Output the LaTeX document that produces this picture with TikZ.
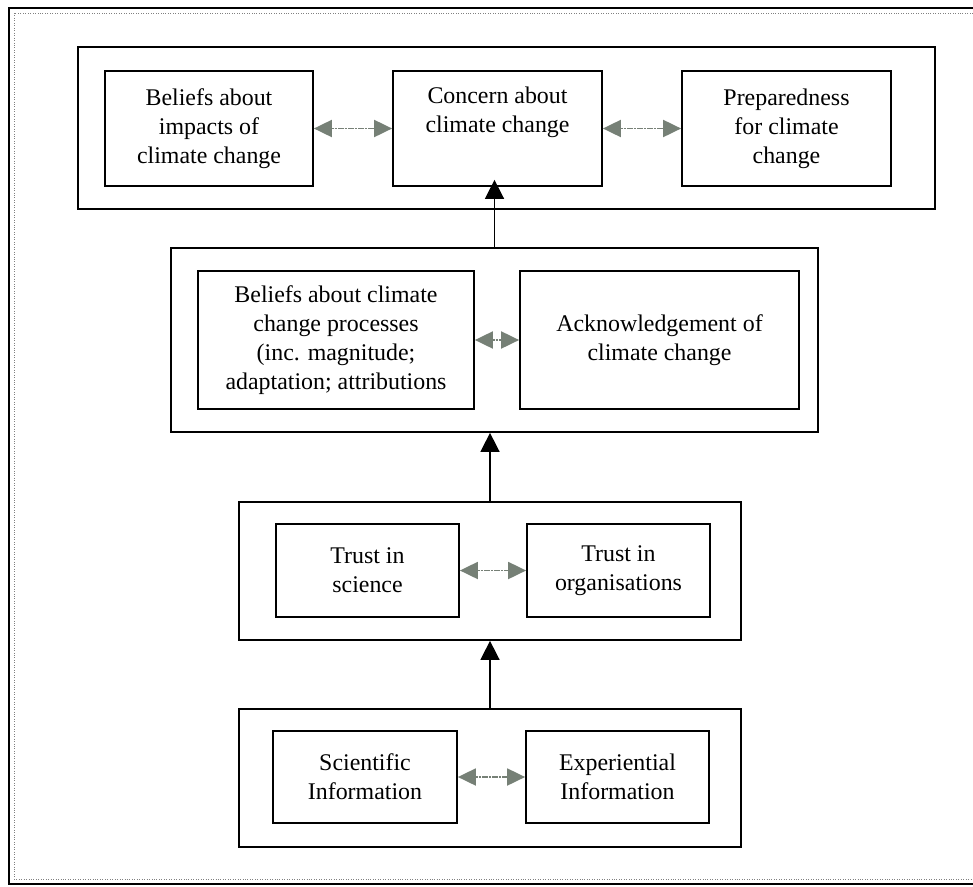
\documentclass[tikz,border=0pt]{standalone}
\usepackage{fontspec}
\setmainfont{Liberation Serif}
\usetikzlibrary{arrows.meta}
\newdimen\pxu
\pxu=0.02cm
\definecolor{linkgray}{RGB}{118,128,118}
\begin{document}
\begin{tikzpicture}[x=0.02cm,y=-0.02cm,
  every node/.style={font=\fontsize{13.6}{16.6}\selectfont,align=center,inner sep=0pt},
  grp/.style={draw,line width=1pt},
  box/.style={draw,line width=1pt},
  link/.style={linkgray,line width=1.1pt,dash pattern=on 1.4pt off 0.5pt,{Triangle[length=3.6mm,width=3.4mm]}-{Triangle[length=3.6mm,width=3.4mm]}},
  up/.style={line width=0.9pt,-{Triangle[length=3.8mm,width=3.8mm]}}]
  \useasboundingbox (0,0) rectangle (973,886);
  \draw[line width=1.2pt] (9,8) rectangle (1000,884);
  \draw[gray,densely dotted] (14,13) rectangle (1000,879);
  \node[grp,minimum width=857\pxu,minimum height=162\pxu] (topgrp) at (506.5,128) {};
  \node[box,minimum width=208\pxu,minimum height=115\pxu] (impacts) at (209,128.5) {Beliefs about\\impacts of\\climate change};
  \node[box,minimum width=209\pxu,minimum height=115\pxu] (concern) at (497.5,128.5) {Concern about\\climate change\\\strut};
  \node[box,minimum width=209\pxu,minimum height=115\pxu] (prepared) at (786.5,128.5) {Preparedness\\for climate\\change};
  \node[grp,minimum width=647\pxu,minimum height=184\pxu] (midgrp) at (494.5,340) {};
  \node[box,minimum width=276\pxu,minimum height=138\pxu] (processes) at (336,340) {Beliefs about climate\\change processes\\(inc. magnitude;\\adaptation; attributions};
  \node[box,minimum width=279\pxu,minimum height=138\pxu] (acknowledge) at (659.5,340) {Acknowledgement of\\climate change};
  \node[grp,minimum width=502\pxu,minimum height=138\pxu] (trustgrp) at (490,571) {};
  \node[box,minimum width=183\pxu,minimum height=93\pxu] (science) at (367.5,570.5) {Trust in\\science};
  \node[box,minimum width=183\pxu,minimum height=93\pxu] (orgs) at (618.5,570.5) {Trust in\\organisations};
  \node[grp,minimum width=502\pxu,minimum height=138\pxu] (infogrp) at (490,778) {};
  \node[box,minimum width=184\pxu,minimum height=92\pxu] (scientific) at (365,777) {Scientific\\Information};
  \node[box,minimum width=183\pxu,minimum height=92\pxu] (experiential) at (617.5,777) {Experiential\\Information};
  \draw[link](impacts)--(concern);
  \draw[link](concern)--(prepared);
  \draw[link](processes)--(acknowledge);
  \draw[link](science)--(orgs);
  \draw[link](scientific)--(experiential);
  \draw[up](infogrp.north)--(trustgrp.south);
  \draw[up](trustgrp.north)--(trustgrp.north |- midgrp.south);
  \draw[up,shorten >=-0.14cm](midgrp.north)--(midgrp.north |- concern.south);
\end{tikzpicture}
\end{document}
